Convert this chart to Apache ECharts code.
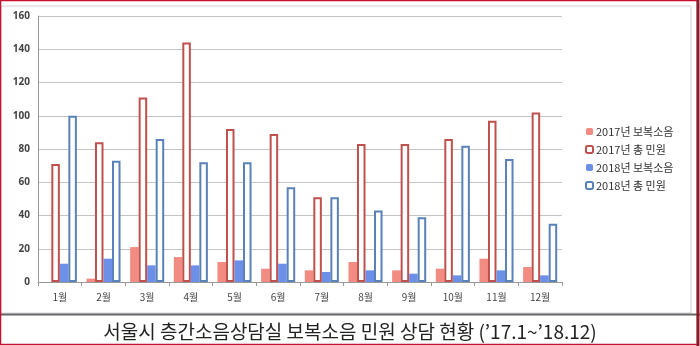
<!DOCTYPE html>
<html><head><meta charset="utf-8">
<script src="https://cdn.jsdelivr.net/npm/echarts@6/dist/echarts.min.js"></script>
<style>html,body{margin:0;padding:0;background:#fff}#c{width:700px;height:346px}</style>
</head><body><div id="c"></div>
<script>
const months = ['1월','2월','3월','4월','5월','6월','7월','8월','9월','10월','11월','12월'];
const seriesNames = ['2017년 보복소음','2017년 총 민원','2018년 보복소음','2018년 총 민원'];
const retaliation2017 = [0, 2, 21, 15, 12, 8, 7, 12, 7, 8, 14, 9];
const total2017 = [71, 84, 111, 144, 92, 89, 51, 83, 83, 86, 97, 102];
const retaliation2018 = [11, 14, 10, 10, 13, 11, 6, 7, 5, 4, 7, 4];
const total2018 = [100, 73, 86, 72, 72, 57, 51, 43, 39, 82, 74, 35];
const yTicks = {min: 0, max: 160, interval: 20};
const caption = '서울시 층간소음상담실 보복소음 민원 상담 현황 (’17.1~’18.12)';

const chart = echarts.init(document.getElementById('c'), null, {renderer: 'canvas'});
const font = "'Noto Sans CJK KR', 'Noto Sans', sans-serif";
function filled(name, data, color) {
  return {name, type: 'bar', data, barGap: '0%', barCategoryGap: '22%',
    itemStyle: {color: color}};
}
function outlined(name, data, color) {
  return {name, type: 'bar', data, barGap: '0%', barCategoryGap: '22%',
    itemStyle: {color: '#ffffff', borderColor: color, borderWidth: 2}};
}
chart.setOption({
  animation: false,
  textStyle: {fontFamily: font},
  title: {
    text: caption, left: 'center', top: 317,
    textStyle: {fontFamily: font, fontSize: 19, fontWeight: 'normal', color: '#222'}
  },
  grid: {left: 38, right: 138, top: 16, bottom: 64, containLabel: false},
  legend: {
    orient: 'vertical', left: 580, top: 121, itemWidth: 7, itemHeight: 7, itemGap: 7,
    textStyle: {fontFamily: font, fontSize: 11, color: '#333', padding: [0, 0, 0, -2]},
    data: seriesNames
  },
  xAxis: {
    type: 'category', data: months,
    axisLine: {lineStyle: {color: '#999', width: 1}},
    axisTick: {show: true, length: 4, lineStyle: {color: '#999'}},
    axisLabel: {fontSize: 10, color: '#444', margin: 10, fontFamily: font}
  },
  yAxis: {
    type: 'value', min: yTicks.min, max: yTicks.max, interval: yTicks.interval,
    axisLine: {show: true, lineStyle: {color: '#999'}},
    axisTick: {show: false},
    axisLabel: {fontSize: 10, color: '#444', fontWeight: 'bold', margin: 8, fontFamily: "'Open Sans', sans-serif"},
    splitLine: {lineStyle: {color: '#c4c4c4', width: 1}}
  },
  series: [
    filled(seriesNames[0], retaliation2017, '#F28B82'),
    outlined(seriesNames[1], total2017, '#C0504D'),
    filled(seriesNames[2], retaliation2018, '#6C8FE8'),
    outlined(seriesNames[3], total2018, '#5A82B8')
  ],
  graphic: [
    {type: 'rect', shape: {x: 1, y: 6, width: 690, height: 307}, style: {fill: 'none', stroke: '#cfcfd8', lineWidth: 1}, silent: true},
    {type: 'line', shape: {x1: 0, y1: 314.5, x2: 700, y2: 314.5}, style: {stroke: '#666', lineWidth: 2}, silent: true},
    {type: 'rect', shape: {x: 0.5, y: 0.5, width: 697, height: 344}, style: {fill: 'none', stroke: '#C8102E', lineWidth: 1.5}, silent: true},
    {type: 'line', shape: {x1: 698, y1: 0, x2: 698, y2: 346}, style: {stroke: '#8B1A2B', lineWidth: 3}, silent: true}
  ]
});
</script></body></html>
